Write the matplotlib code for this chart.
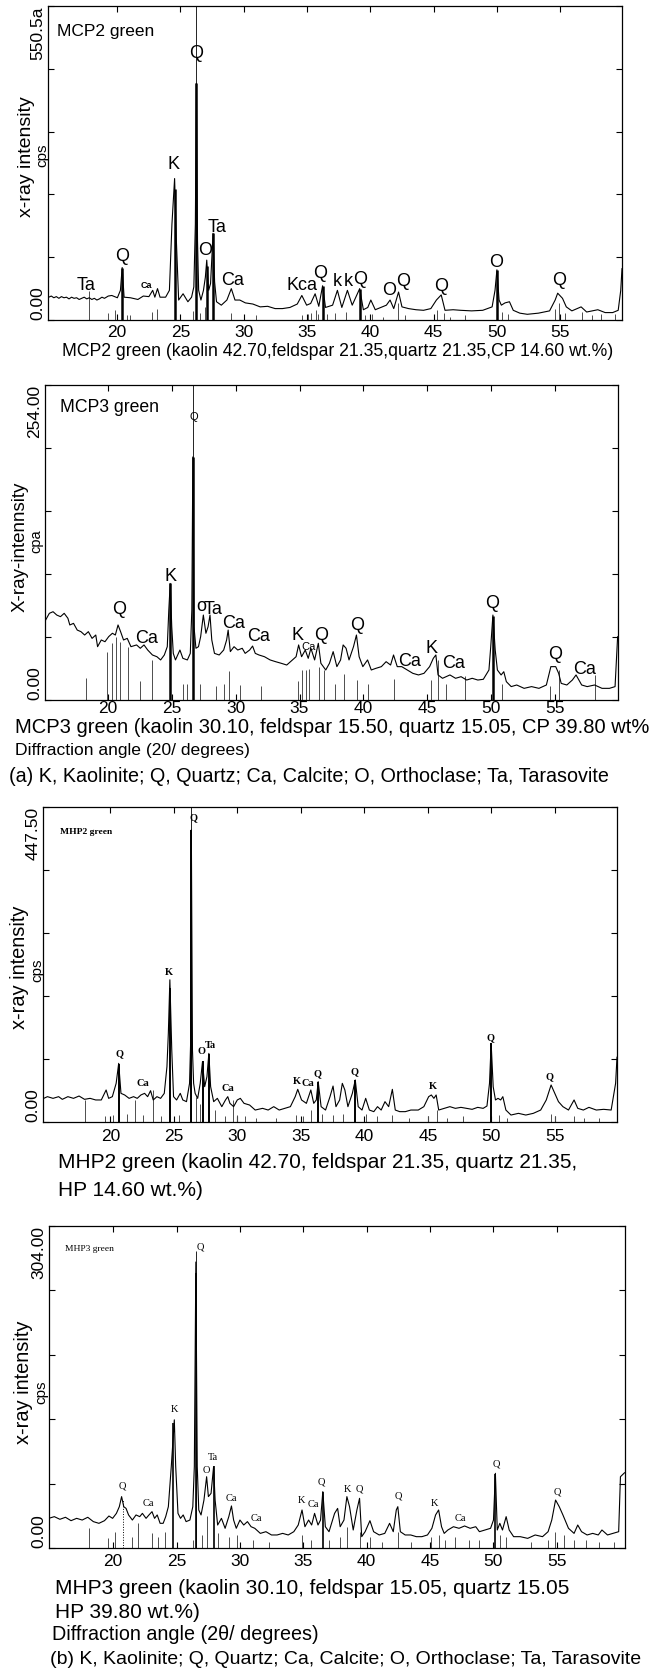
import numpy as np
import matplotlib
matplotlib.use('Agg')
import matplotlib.pyplot as plt

plt.rcParams['font.family'] = ['Liberation Sans', 'DejaVu Sans']
SERIF = ['Liberation Serif', 'DejaVu Serif']

W, H = 667, 1678

# ---------------- MCP2 green ----------------
mcp2_deg = [14.6, 14.8, 15.0, 15.2, 15.4, 15.6, 15.8, 16.0, 16.2, 16.4, 16.6, 16.8, 17.0, 17.2, 17.4, 17.6,
            17.8, 18.0, 18.2, 18.4, 18.6, 18.8, 19.0, 19.3, 19.58, 20.02, 20.26, 20.40, 20.55, 21.05, 21.64,
            22.07, 22.51, 22.81, 22.98, 23.19, 23.39, 23.83, 24.13, 24.33, 24.54, 24.68, 24.86, 25.21, 25.59,
            25.88, 26.06, 26.18, 26.26, 26.35, 26.44, 26.62, 26.82, 26.97, 27.08, 27.23, 27.38, 27.58, 27.70,
            27.85, 28.23, 28.67, 29.02, 29.31, 29.69, 30.13, 30.72, 31.30, 31.89, 32.48, 33.06, 33.65, 34.23,
            34.59, 34.97, 35.29, 35.64, 35.93, 36.23, 36.46, 37.02, 37.40, 37.75, 38.19, 38.57, 39.16, 39.45,
            39.80, 40.04, 40.39, 40.83, 41.27, 41.56, 41.85, 42.23, 42.50, 43.02, 43.61, 44.20, 44.78, 45.22,
            45.60, 45.90, 46.54, 47.13, 48.00, 48.88, 49.62, 49.85, 50.00, 50.17, 50.35, 50.64, 50.99, 51.29,
            51.81, 52.40, 53.28, 54.16, 54.60, 54.80, 55.18, 55.48, 55.92, 56.65, 57.09, 57.97, 58.55, 59.14,
            59.58, 59.78, 59.88]
mcp2_cps = [40, 42, 39, 41, 38, 41, 39, 40, 37, 40, 38, 39, 36, 38, 40, 37,
            39, 36, 38, 35, 37, 40, 38, 42, 43, 39, 52, 92, 40, 39, 36,
            42, 41, 52, 40, 55, 40, 40, 52, 168, 248, 139, 35, 46, 32,
            40, 58, 168, 415, 139, 52, 35, 52, 75, 105, 52, 64, 152, 67,
            32, 26, 35, 55, 35, 35, 30, 28, 23, 24, 20, 20, 22, 28,
            43, 26, 29, 46, 24, 60, 22, 26, 52, 22, 52, 26, 55, 18,
            22, 35, 18, 22, 26, 35, 20, 49, 23, 20, 18, 17, 20, 35,
            44, 17, 18, 17, 16, 17, 23, 52, 88, 35, 26, 30, 32, 17,
            12, 10, 12, 16, 35, 47, 38, 23, 16, 23, 14, 18, 13, 13,
            17, 52, 90]
mcp2_stick_deg = [17.75, 19.30, 19.83, 20.76, 21.05, 22.73, 23.13, 25.97, 26.55, 26.94, 29.0, 31.0, 34.58,
                  35.1, 35.3, 35.7, 35.9, 36.6, 37.2, 38.1, 39.6, 40.1, 41.0, 42.2, 42.7, 45.3, 45.8, 46.3,
                  47.5, 50.4, 50.9, 54.6, 54.9, 55.4, 56.7, 57.5, 58.2, 59.3]
mcp2_stick_cps = [50, 12, 18, 9, 8, 14, 20, 16, 12, 22, 12, 8, 8,
                  10, 12, 18, 10, 10, 12, 14, 8, 10, 6, 30, 8, 18, 12, 6,
                  8, 14, 10, 20, 30, 12, 14, 8, 10, 10]
mcp2_bold_deg = [20.40, 24.54, 26.26, 27.08, 27.58, 36.23, 39.16, 50.00]
mcp2_bold_cps = [92, 230, 415, 95, 152, 60, 55, 88]
mcp2_labels = [('Ta', 17.54, 60), ('Q', 20.36, 111), ('K', 24.49, 272), ('Q', 26.23, 468),
               ('O', 26.94, 121), ('Ta', 27.87, 162), ('Ca', 29.1, 70), ('Kca', 34.58, 61),
               ('Q', 36.03, 81), ('k', 37.40, 67), ('k', 38.28, 67), ('Q', 39.22, 71),
               ('O', 41.5, 52), ('Q', 42.58, 67), ('Q', 45.61, 58), ('O', 49.91, 101), ('Q', 54.9, 70)]

# ---------------- MCP3 green ----------------
mcp3_deg = [15.15, 15.44, 15.73, 16.02, 16.31, 16.60, 16.89, 17.04, 17.33, 17.62, 17.91, 18.20, 18.49, 18.78,
            19.07, 19.21, 19.50, 19.79, 20.08, 20.37, 20.60, 20.81, 21.01, 21.24, 21.53, 21.82, 22.26, 22.55,
            22.84, 23.13, 23.50, 23.85, 24.14, 24.43, 24.66, 24.78, 24.89, 25.01, 25.13, 25.30, 25.65, 25.88,
            26.23, 26.46, 26.58, 26.66, 26.75, 26.90, 27.10, 27.27, 27.48, 27.68, 27.85, 28.00, 28.14, 28.35,
            28.72, 29.07, 29.30, 29.42, 29.59, 29.88, 30.17, 30.52, 30.75, 31.10, 31.33, 31.54, 31.83, 32.26,
            32.70, 33.13, 33.57, 34.00, 34.44, 34.73, 34.93, 35.16, 35.45, 35.68, 35.89, 36.18, 36.47, 36.67,
            37.05, 37.34, 37.63, 37.92, 38.21, 38.41, 38.64, 38.87, 39.22, 39.45, 39.66, 39.95, 40.32, 40.61,
            40.96, 41.40, 41.77, 42.12, 42.35, 42.64, 42.99, 43.43, 43.86, 44.30, 44.73, 45.17, 45.46, 45.66,
            45.83, 46.18, 46.76, 47.20, 47.63, 48.07, 48.50, 48.94, 49.37, 49.81, 49.95, 50.12, 50.30, 50.47,
            50.76, 50.97, 51.17, 51.55, 51.98, 52.56, 53.14, 53.72, 54.30, 54.65, 55.03, 55.26, 55.46, 55.90,
            56.33, 56.62, 57.06, 57.49, 58.07, 58.65, 59.23, 59.67, 59.87]
mcp3_cps = [64.5, 69.9, 71.2, 68.5, 67.2, 69.9, 65.9, 60.5, 61.8, 56.4, 55.1, 52.4, 55.1, 49.7,
            52.4, 43.0, 48.4, 47.0, 51.1, 53.8, 52.4, 60.5, 55.1, 48.4, 49.7, 43.0, 44.4, 41.7,
            44.4, 40.3, 36.3, 34.9, 32.3, 36.3, 43.0, 72.6, 94, 59.1, 37.6, 32.3, 40.3, 33.6,
            32.3, 37.6, 72.6, 196, 59.1, 41.7, 43.0, 51.1, 68.5, 53.8, 59.1, 68.5, 48.4, 37.6,
            36.3, 40.3, 48.4, 56.4, 39.0, 43.0, 40.3, 41.7, 37.6, 40.3, 43.5, 37.6, 36.3, 34.9,
            32.3, 30.9, 29.6, 28.2, 32.3, 34.9, 44.4, 34.9, 40.3, 33.6, 41.7, 32.3, 45.7, 29.6,
            24.2, 29.6, 39.0, 26.9, 32.3, 44.4, 41.7, 32.3, 43.0, 52.4, 34.9, 26.9, 32.3, 24.2,
            25.5, 26.9, 30.9, 28.2, 36.3, 26.9, 26.9, 24.2, 21.5, 20.2, 21.5, 26.9, 33.6, 36.3,
            20.2, 17.5, 20.2, 17.5, 18.8, 16.1, 17.5, 16.1, 16.7, 24.2, 43.0, 68.5, 40.3, 24.2,
            20.2, 22.8, 14.8, 10.8, 12.1, 9.4, 10.8, 9.4, 12.1, 26.9, 26.9, 21.5, 13.4, 12.1,
            16.1, 20.2, 12.1, 10.8, 12.1, 9.4, 9.4, 10.8, 51]
mcp3_stick_deg = [18.28, 19.95, 20.37, 20.66, 20.95, 21.59, 22.55, 23.47, 25.88, 26.17, 27.19, 28.49, 29.07,
                  29.50, 30.38, 31.97, 34.87, 35.16, 35.51, 35.74, 36.55, 36.90, 37.77, 38.50, 39.51, 40.38,
                  42.41, 45.31, 45.83, 46.47, 47.92, 50.82, 54.59, 55.31, 58.07]
mcp3_stick_cps = [17.5, 39, 46, 51, 47, 43, 15, 32, 13, 13, 13, 11, 13,
                  23, 12, 11, 15, 24, 24, 25, 27, 24, 13, 21, 16, 13,
                  17, 16, 32, 13, 19, 13, 11, 24, 20]
mcp3_bold_deg = [24.89, 26.66, 50.12]
mcp3_bold_cps = [94, 196, 68]
mcp3_labels = [('Q', 20.88, 72.6), ('Ca', 23.05, 49.8), ('K', 24.93, 99.4), ('o', 27.35, 75.2),
               ('Ta', 28.26, 73.1), ('Ca', 29.82, 61.8), ('Ca', 31.78, 51), ('K', 34.85, 52.4),
               ('Q', 36.65, 52.4), ('Q', 39.47, 59.7), ('Ca', 43.58, 30.9), ('K', 45.33, 41.7),
               ('Ca', 47.02, 29.6), ('Q', 50.02, 78), ('Q', 54.98, 36.3), ('Ca', 57.32, 24.2)]
mcp3_small_labels = [('Q', 26.77, 228.4), ('Ca', 35.74, 43)]

# ---------------- MHP2 green ----------------
mhp2_deg = [14.75, 15.04, 15.48, 15.92, 16.21, 16.65, 17.09, 17.53, 17.96, 18.40, 18.84, 19.28, 19.66, 19.86,
            20.15, 20.45, 20.65, 20.83, 21.12, 21.47, 21.82, 22.11, 22.40, 22.69, 22.93, 23.16, 23.37, 23.66,
            23.95, 24.24, 24.45, 24.56, 24.68, 24.83, 24.97, 25.21, 25.50, 25.70, 25.99, 26.23, 26.32, 26.37,
            26.46, 26.55, 26.67, 26.87, 27.07, 27.25, 27.42, 27.60, 27.75, 27.89, 28.13, 28.42, 28.77, 29.06,
            29.24, 29.41, 29.70, 29.99, 30.23, 30.52, 30.96, 31.40, 31.98, 32.42, 32.86, 33.29, 33.73, 34.17,
            34.55, 34.75, 35.05, 35.43, 35.78, 36.01, 36.21, 36.36, 36.59, 36.94, 37.29, 37.53, 37.76, 38.05,
            38.26, 38.46, 38.70, 39.05, 39.28, 39.51, 39.81, 40.10, 40.39, 40.74, 41.03, 41.32, 41.62, 41.91,
            42.20, 42.43, 42.78, 43.22, 43.66, 44.24, 44.68, 45.06, 45.27, 45.47, 45.65, 45.85, 46.29, 46.73,
            47.16, 47.60, 48.04, 48.48, 48.92, 49.35, 49.65, 49.85, 49.98, 50.14, 50.32, 50.52, 50.73, 50.90,
            51.14, 51.54, 52.13, 52.71, 53.30, 53.88, 54.32, 54.70, 54.99, 55.28, 55.63, 56.07, 56.51, 56.80,
            57.24, 57.68, 58.26, 58.84, 59.43, 59.78, 59.89]
mhp2_cps = [33.6, 36.0, 33.6, 36.0, 32.2, 36.0, 33.6, 36.9, 32.2, 33.6, 31.3, 31.3, 45.5, 33.6,
            36.0, 54.9, 83.3, 40.7, 38.4, 33.6, 36.0, 33.6, 38.4, 40.7, 36.0, 44.5, 31.3, 36.0,
            33.6, 40.7, 78.6, 126, 202, 102, 36.0, 31.3, 40.7, 31.3, 28.9, 54.9, 116, 415,
            102, 55, 40.7, 33.6, 54.9, 85.7, 50.2, 64.4, 97.5, 50.2, 28.9, 33.6, 21.8, 31.3,
            36.0, 26.5, 21.8, 31.3, 33.6, 26.5, 24.1, 17.0, 19.4, 17.0, 21.8, 17.0, 19.4, 21.8,
            36.0, 46.4, 31.3, 26.5, 45.5, 26.5, 31.3, 57.3, 21.8, 17.0, 36.0, 51.1, 21.8, 31.3,
            54.9, 45.5, 21.8, 40.7, 59.7, 21.8, 17.0, 33.6, 17.0, 14.7, 21.8, 17.0, 28.9, 21.8,
            46.4, 17.0, 14.7, 14.7, 17.0, 17.0, 21.8, 36.0, 38.4, 33.6, 38.4, 17.0, 19.4, 21.8,
            19.4, 20.8, 19.4, 18.0, 20.8, 19.4, 22.7, 54.9, 111.7, 50.2, 31.3, 33.6, 31.3, 36.0,
            17.0, 9.9, 12.3, 9.9, 12.3, 17.0, 31.3, 52.6, 40.7, 28.9, 21.8, 17.0, 31.3, 19.4,
            17.0, 20.8, 17.0, 18.0, 17.0, 54.9, 92]
mhp2_stick_deg = [18.02, 19.6, 20.2, 21.3, 21.91, 22.6, 23.37, 24.0, 25.4, 26.72, 27.02, 28.24, 29.0, 29.64,
                  29.94, 30.6, 31.5, 33.0, 34.61, 35.2, 35.78, 36.65, 37.5, 38.3, 40.1, 41.0, 42.2, 43.5,
                  45.0, 45.7, 46.5, 47.8, 50.6, 51.2, 54.7, 55.0, 56.5, 57.3, 58.5]
mhp2_stick_cps = [31, 8, 10, 12, 31, 10, 45, 8, 10, 36, 26, 17, 8, 31,
                  10, 8, 6, 6, 10, 8, 17, 12, 10, 12, 12, 8, 10, 6,
                  8, 17, 6, 8, 10, 6, 12, 8, 8, 6, 6]
mhp2_bold_deg = [20.70, 24.66, 26.37, 27.25, 27.75, 36.36, 39.28, 49.98]
mhp2_bold_cps = [83, 190, 415, 86, 97, 57, 60, 112]
mhp2_labels = [('Q', 26.53, 432), ('K', 24.64, 213), ('Q', 20.68, 97), ('Ca', 22.59, 55),
               ('O', 27.21, 100), ('Ta', 27.9, 108), ('Ca', 29.28, 48), ('K', 34.67, 57),
               ('Ca', 35.58, 55), ('Q', 36.32, 69), ('Q', 39.2, 71.5), ('K', 45.38, 51),
               ('Q', 49.89, 120), ('Q', 54.61, 64)]

# ---------------- MHP3 green ----------------
mhp3_deg = [14.91, 15.35, 15.79, 16.23, 16.67, 17.11, 17.55, 17.99, 18.43, 18.87, 19.31, 19.66, 19.95, 20.25,
            20.48, 20.66, 20.83, 21.01, 21.21, 21.51, 21.80, 22.09, 22.30, 22.59, 22.82, 23.06, 23.26, 23.47,
            23.70, 23.94, 24.14, 24.35, 24.58, 24.73, 24.82, 24.93, 25.11, 25.31, 25.52, 25.75, 26.05, 26.28,
            26.40, 26.52, 26.63, 26.75, 26.93, 27.16, 27.37, 27.51, 27.72, 27.92, 28.04, 28.24, 28.54, 28.83,
            29.12, 29.33, 29.50, 29.71, 30.00, 30.30, 30.59, 30.88, 31.17, 31.61, 32.05, 32.49, 32.93, 33.37,
            33.81, 34.25, 34.60, 34.90, 35.13, 35.42, 35.66, 35.89, 36.16, 36.36, 36.54, 36.74, 37.03, 37.47,
            37.71, 37.91, 38.21, 38.44, 38.65, 38.94, 39.23, 39.44, 39.61, 39.88, 40.26, 40.55, 40.99, 41.43,
            41.81, 42.10, 42.34, 42.46, 42.66, 43.04, 43.48, 43.92, 44.36, 44.80, 45.15, 45.44, 45.68, 45.91,
            46.12, 46.41, 46.85, 47.29, 47.73, 48.17, 48.61, 48.90, 49.34, 49.78, 50.01, 50.16, 50.31, 50.51,
            50.72, 51.01, 51.25, 51.60, 52.12, 52.71, 53.30, 53.88, 54.32, 54.61, 54.91, 55.20, 55.49, 55.93,
            56.37, 56.66, 56.96, 57.40, 57.84, 58.28, 58.57, 59.01, 59.45, 59.89, 60.03, 60.35]
mhp3_cps = [28.0, 29.6, 27.1, 29.0, 25.8, 28.0, 26.4, 29.0, 24.9, 23.3, 25.8, 30.2, 28.0, 32.7,
            39.0, 48.5, 39.0, 37.4, 31.2, 26.4, 31.2, 29.6, 32.7, 28.0, 31.2, 34.3, 28.0, 31.2,
            23.3, 23.3, 29.6, 39.0, 76.8, 105, 121, 76.8, 32.7, 28.0, 31.2, 24.9, 26.4, 39.0,
            76.8, 270, 76.8, 35.9, 31.2, 45.3, 67.3, 48.5, 51.6, 76.8, 45.3, 21.7, 28.0, 18.6,
            29.6, 39.7, 26.4, 18.6, 26.4, 21.7, 24.9, 20.1, 18.6, 13.8, 15.4, 12.3, 12.3, 13.8,
            12.3, 15.4, 21.7, 35.9, 20.1, 26.4, 21.7, 32.7, 21.7, 26.4, 53.2, 20.1, 15.4, 32.7,
            37.4, 20.1, 26.4, 48.5, 39.0, 17.0, 35.9, 46.9, 10.7, 15.4, 25.8, 15.4, 12.3, 13.8,
            23.3, 15.4, 35.9, 39.0, 15.4, 12.3, 12.3, 10.7, 10.7, 12.3, 18.6, 31.2, 35.9, 20.1,
            13.8, 17.0, 20.1, 18.6, 20.8, 18.6, 20.1, 15.4, 17.0, 18.6, 26.4, 70.5, 17.0, 23.3,
            17.0, 29.6, 17.0, 10.7, 10.7, 9.1, 12.3, 10.7, 15.4, 26.4, 45.3, 39.0, 31.2, 18.6,
            13.8, 21.7, 15.4, 12.3, 13.8, 12.3, 17.0, 12.3, 13.8, 15.4, 67.3, 71]
mhp3_stick_deg = [18.05, 19.6, 20.15, 21.46, 21.96, 23.04, 23.5, 24.1, 26.3, 27.0, 27.37, 28.3, 29.1, 29.8,
                  31.0, 32.3, 34.9, 35.6, 37.0, 37.9, 38.44, 39.44, 40.3, 41.2, 42.46, 43.5, 45.1, 45.7,
                  46.2, 47.0, 48.1, 48.9, 50.5, 51.0, 53.0, 54.3, 54.9, 55.6, 56.4, 57.3, 58.3, 59.5]
mhp3_stick_cps = [19, 9, 15, 10, 24, 14, 10, 15, 8, 12, 30, 14, 10, 12,
                  8, 6, 12, 8, 8, 10, 20, 15, 10, 6, 15, 6, 10, 12,
                  8, 10, 8, 8, 12, 10, 6, 8, 15, 12, 8, 8, 6, 6]
mhp3_bold_deg = [24.75, 26.52, 27.92, 36.54, 50.16]
mhp3_bold_cps = [118, 260, 77, 53, 70]
mhp3_labels = [('Q', 26.85, 284), ('K', 24.82, 131), ('Q', 20.75, 58.5), ('Ca', 22.77, 42),
               ('O', 27.32, 73), ('Ta', 27.9, 85), ('Ca', 29.3, 47), ('Ca', 31.33, 28),
               ('K', 34.88, 45), ('Ca', 35.79, 40.6), ('Q', 36.45, 62), ('K', 38.48, 55.7),
               ('Q', 39.43, 55.7), ('Q', 42.5, 49), ('K', 45.32, 42), ('Ca', 47.37, 28),
               ('Q', 50.27, 79), ('Q', 55.08, 53)]


def panel(box, xlim, ymax, toplab, deg, cps, sdeg, scps, bdeg, bcps, labels, lab_font,
          title, title_font, pad, bold_lw):
    l, t, r, b = box
    ax = fig.add_axes([l / W, 1 - b / H, (r - l) / W, (b - t) / H])
    ax.vlines(sdeg, 0, scps, color='0.3', lw=0.7)
    ax.vlines(bdeg, 0, bcps, color='k', lw=bold_lw)
    ax.plot(deg, cps, color='k', lw=0.8)
    ax.set_xlim(*xlim)
    ax.set_ylim(0, ymax)
    ax.set_xticks([20, 25, 30, 35, 40, 45, 50, 55])
    yt = np.linspace(0, ymax, 6)
    ax.set_yticks(yt, ['0.00', '', '', '', '', toplab])
    tl = ax.get_yticklabels()
    for lab in tl:
        lab.set_rotation(90)
    tl[0].set_va('bottom')
    tl[-1].set_va('top')
    ax.tick_params(axis='y', direction='in', right=True, length=4, width=0.8, labelsize=12.5, pad=2)
    ax.tick_params(axis='x', direction='in', top=True, length=4, width=0.8, labelsize=12.5, pad=pad)
    for s in ax.spines.values():
        s.set_linewidth(0.9)
    for txt, x, y in labels:
        ax.text(x, y, txt, ha='center', va='center', **lab_font)
    ax.text(title[1], title[2], title[0], transform=ax.transAxes, ha='left', va='center', **title_font)
    return ax


def ftext(x, y, s, **kw):
    fig.text(x / W, 1 - y / H, s, **kw)


fig = plt.figure(figsize=(W / 100, H / 100), dpi=100)

# panel 1
ax1 = panel((48, 6, 622, 320), (14.54, 59.88), 550.5, '550.5a', mcp2_deg, mcp2_cps,
            mcp2_stick_deg, mcp2_stick_cps, mcp2_bold_deg, mcp2_bold_cps, mcp2_labels,
            dict(fontsize=13), ('MCP2 green', 0.016, 0.92), dict(fontsize=12.5), 3.5, 1.8)
ax1.vlines([26.26], 0, 550.5, color='k', lw=0.6)
ax1.text(22.34, 61, 'Ca', ha='center', va='center', fontsize=6.5, fontweight='bold')
ftext(27, 157, 'x-ray intensity', rotation=90, ha='center', va='center', fontsize=14)
ftext(42, 155, 'cps', rotation=90, ha='center', va='center', fontsize=11)
ftext(62, 352, 'MCP2 green (kaolin 42.70,feldspar 21.35,quartz 21.35,CP 14.60 wt.%)',
      ha='left', va='center', fontsize=12.7)

# panel 2
ax2 = panel((45, 385, 618, 700), (15.10, 59.90), 254, '254.00', mcp3_deg, mcp3_cps,
            mcp3_stick_deg, mcp3_stick_cps, mcp3_bold_deg, mcp3_bold_cps, mcp3_labels,
            dict(fontsize=13), ('MCP3 green', 0.026, 0.927), dict(fontsize=12.7), 1.0, 1.8)
ax2.vlines([26.66], 0, 254, color='k', lw=0.6)
for txt, x, y in mcp3_small_labels:
    ax2.text(x, y, txt, ha='center', va='center', fontsize=8)
ftext(20, 547, 'X-ray-intennsity', rotation=90, ha='center', va='center', fontsize=13.5)
ftext(36.5, 541, 'cpa', rotation=90, ha='center', va='center', fontsize=10.5)
ftext(15, 727, 'MCP3 green (kaolin 30.10, feldspar 15.50, quartz 15.05, CP 39.80 wt%',
      ha='left', va='center', fontsize=14.5)
ftext(15, 750, 'Diffraction angle (20/ degrees)', ha='left', va='center', fontsize=12.6)
ftext(9, 776, '(a) K, Kaolinite; Q, Quartz; Ca, Calcite; O, Orthoclase; Ta, Tarasovite',
      ha='left', va='center', fontsize=14.2)

# panel 3
ax3 = panel((43, 807, 617, 1122), (14.69, 59.89), 447.5, '447.50', mhp2_deg, mhp2_cps,
            mhp2_stick_deg, mhp2_stick_cps, mhp2_bold_deg, mhp2_bold_cps, mhp2_labels,
            dict(fontsize=7.5, fontweight='bold', family=SERIF), ('MHP2 green', 0.030, 0.921),
            dict(fontsize=6.8, fontweight='bold', family=SERIF), 5, 1.4)
ax3.vlines([26.37], 0, 447.5, color='k', lw=0.6)
ftext(20, 967, 'x-ray intensity', rotation=90, ha='center', va='center', fontsize=14.4)
ftext(37, 970, 'cps', rotation=90, ha='center', va='center', fontsize=11)
ftext(58, 1163, 'MHP2 green (kaolin 42.70, feldspar 21.35, quartz 21.35,',
      ha='left', va='center', fontsize=15)
ftext(58, 1191, 'HP 14.60 wt.%)', ha='left', va='center', fontsize=15)

# panel 4
ax4 = panel((49, 1226, 625, 1548), (14.93, 60.39), 304, '304.00', mhp3_deg, mhp3_cps,
            mhp3_stick_deg, mhp3_stick_cps, mhp3_bold_deg, mhp3_bold_cps, mhp3_labels,
            dict(fontsize=7.5, family=SERIF), ('MHP3 green', 0.028, 0.928),
            dict(fontsize=6.8, family=SERIF), 4.5, 1.2)
ax4.vlines([26.52], 0, 280, color='k', lw=0.6)
ax4.vlines([20.75], 0, 45, color='k', lw=0.7, linestyles=':')
ftext(23.5, 1382, 'x-ray intensity', rotation=90, ha='center', va='center', fontsize=14.4)
ftext(41, 1392, 'cps', rotation=90, ha='center', va='center', fontsize=11)
ftext(55, 1588, 'MHP3 green (kaolin 30.10, feldspar 15.05, quartz 15.05',
      ha='left', va='center', fontsize=15)
ftext(55, 1612, 'HP 39.80 wt.%)', ha='left', va='center', fontsize=15)
ftext(52, 1635, 'Diffraction angle (2\u03b8/ degrees)', ha='left', va='center', fontsize=14.2)
ftext(50, 1660, '(b) K, Kaolinite; Q, Quartz; Ca, Calcite; O, Orthoclase; Ta, Tarasovite',
      ha='left', va='center', fontsize=14)

fig.savefig('out.png', dpi=100)
